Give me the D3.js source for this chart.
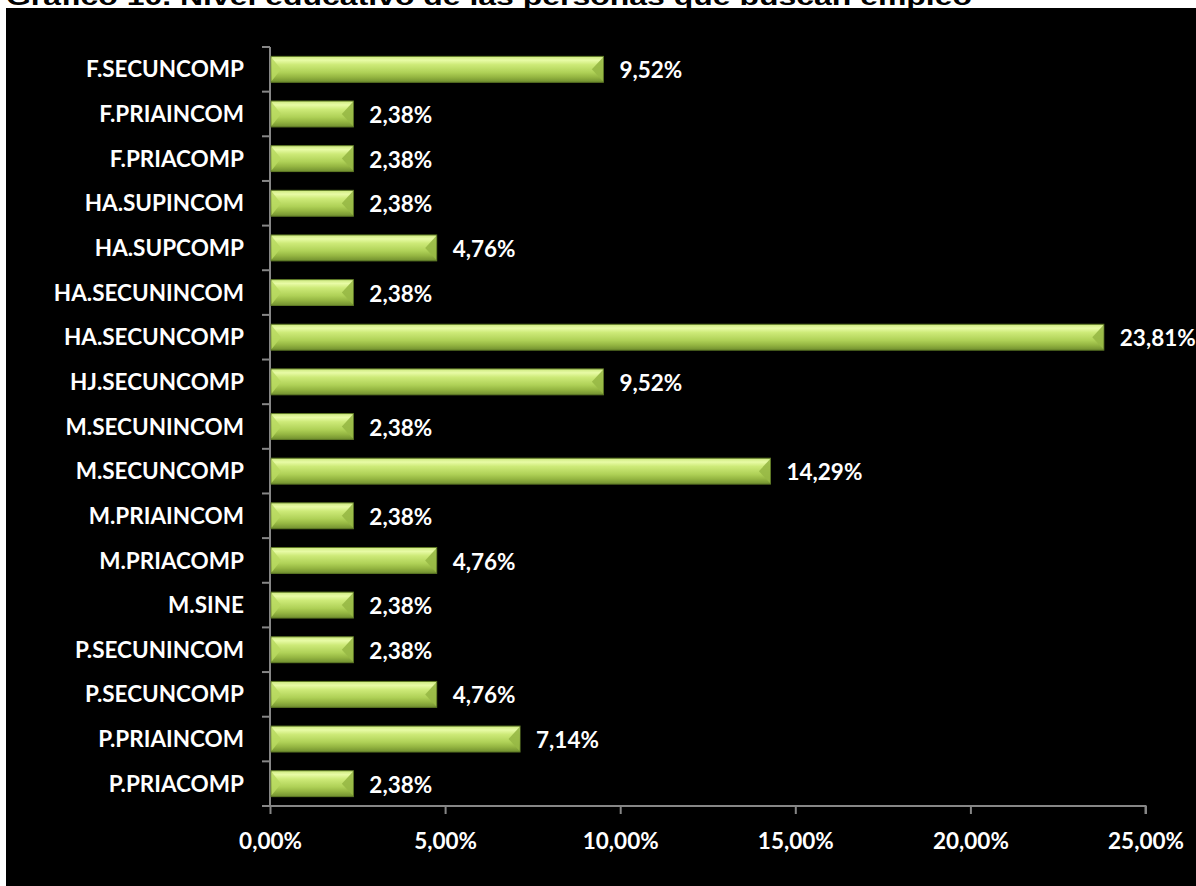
<!DOCTYPE html>
<html>
<head>
<meta charset="utf-8">
<script src="https://cdn.jsdelivr.net/npm/d3@7"></script>
<style>
  body { margin: 0; background: #fff; }
  svg { display: block; }
</style>
</head>
<body>
<div id="chart"></div>
<script>
// chart data, top to bottom
var categories = ["F.SECUNCOMP", "F.PRIAINCOM", "F.PRIACOMP", "HA.SUPINCOM", "HA.SUPCOMP",
  "HA.SECUNINCOM", "HA.SECUNCOMP", "HJ.SECUNCOMP", "M.SECUNINCOM", "M.SECUNCOMP",
  "M.PRIAINCOM", "M.PRIACOMP", "M.SINE", "P.SECUNINCOM", "P.SECUNCOMP",
  "P.PRIAINCOM", "P.PRIACOMP"];
var values = [9.52, 2.38, 2.38, 2.38, 4.76, 2.38, 23.81, 9.52, 2.38, 14.29,
  2.38, 4.76, 2.38, 2.38, 4.76, 7.14, 2.38];
var xTicks = [0, 5, 10, 15, 20, 25];
var title = "Gráfico 10. Nivel educativo de las personas que buscan empleo";

var W = 1196, H = 886;
var font = "Lato, 'Open Sans', sans-serif";
var fs = 22.5;
var pct = function(v) { return v.toFixed(2).replace(".", ",") + "%"; };

var svg = d3.select("#chart").append("svg")
  .attr("width", W).attr("height", H);

// black plot panel
svg.append("rect")
  .attr("x", 6).attr("y", 8)
  .attr("width", W - 6).attr("height", H - 8)
  .attr("fill", "#000");

// title, partly hidden behind the panel as in the source
svg.append("text")
  .attr("x", 6).attr("y", 5)
  .attr("font-family", "'Liberation Sans', Arial, sans-serif")
  .attr("font-weight", "bold")
  .attr("font-size", 24)
  .attr("textLength", 966)
  .attr("lengthAdjust", "spacingAndGlyphs")
  .attr("fill", "#000")
  .text(title);

var data = categories.map(function(c, i) { return {cat: c, val: values[i]}; });

var x = d3.scaleLinear().domain([0, 25]).range([270, 1145.5]);
var y = d3.scaleBand().domain(categories).range([47, 806]).paddingInner(0.42).paddingOuter(0.21);

var defs = svg.append("defs");
var grad = defs.append("linearGradient")
  .attr("id", "barGrad").attr("x1", 0).attr("y1", 0).attr("x2", 0).attr("y2", 1);
grad.append("stop").attr("offset", "0%").attr("stop-color", "#cde97e");
grad.append("stop").attr("offset", "15%").attr("stop-color", "#e8fba6");
grad.append("stop").attr("offset", "32%").attr("stop-color", "#cdea78");
grad.append("stop").attr("offset", "62%").attr("stop-color", "#afd157");
grad.append("stop").attr("offset", "80%").attr("stop-color", "#95b642");
grad.append("stop").attr("offset", "100%").attr("stop-color", "#718f2f");

// x axis
var axisColor = "#868686";
var xAxis = svg.append("g")
  .attr("transform", "translate(0,806)")
  .call(d3.axisBottom(x).tickValues(xTicks).tickSize(8).tickPadding(19)
    .tickFormat(function(d) { return pct(d); }));
xAxis.select(".domain").attr("stroke", axisColor).attr("stroke-width", 2)
  .attr("d", "M" + x(0) + ",0H" + x(25) + "V8");
xAxis.selectAll(".tick line").attr("stroke", axisColor).attr("stroke-width", 2);
xAxis.selectAll(".tick text")
  .attr("fill", "#fff").attr("font-family", font)
  .attr("font-weight", "bold").attr("font-size", fs);

// y axis, ticks sit between categories
var yAxis = svg.append("g").attr("transform", "translate(270,0)");
yAxis.append("line")
  .attr("x1", 0).attr("x2", 0).attr("y1", 47).attr("y2", 806)
  .attr("stroke", axisColor).attr("stroke-width", 2);
var step = y.step();
yAxis.selectAll("line.tk")
  .data(d3.range(categories.length + 1))
  .join("line")
  .attr("class", "tk")
  .attr("x1", -8).attr("x2", 0)
  .attr("y1", function(i) { return 47 + i * step; })
  .attr("y2", function(i) { return 47 + i * step; })
  .attr("stroke", axisColor).attr("stroke-width", 2);

svg.append("g").selectAll("text")
  .data(data)
  .join("text")
  .attr("x", 244)
  .attr("y", function(d) { return y(d.cat) + y.bandwidth() / 2; })
  .attr("dy", "0.36em")
  .attr("text-anchor", "end")
  .attr("fill", "#fff").attr("font-family", font)
  .attr("font-weight", "bold").attr("font-size", fs)
  .text(function(d) { return d.cat; });

// bars with bevelled ends
var bars = svg.append("g").selectAll("g")
  .data(data)
  .join("g")
  .attr("transform", function(d) { return "translate(" + x(0) + "," + y(d.cat) + ")"; });

var bh = y.bandwidth();
bars.append("rect")
  .attr("x", 1)
  .attr("width", function(d) { return x(d.val) - x(0) - 1; })
  .attr("height", bh)
  .attr("fill", "url(#barGrad)")
  .attr("stroke", "#5f7a26").attr("stroke-width", 1);

var bev = 11;
bars.append("path")
  .attr("d", "M1.5,1 L" + bev + "," + (bh / 2) + " L1.5," + (bh - 1) + "Z")
  .attr("fill", "#b9d960").attr("opacity", 0.85);
bars.append("path")
  .attr("d", function(d) {
    var w = x(d.val) - x(0) - 0.5;
    return "M" + w + ",1 L" + (w - bev) + "," + (bh / 2) + " L" + w + "," + (bh - 1) + "Z";
  })
  .attr("fill", "#97b845").attr("opacity", 0.9);

// value labels
svg.append("g").selectAll("text")
  .data(data)
  .join("text")
  .attr("x", function(d) { return x(d.val) + 16; })
  .attr("y", function(d) { return y(d.cat) + bh / 2 + 1; })
  .attr("dy", "0.36em")
  .attr("fill", "#fff").attr("font-family", font)
  .attr("font-weight", "bold").attr("font-size", fs)
  .text(function(d) { return pct(d.val); });
</script>
</body>
</html>
